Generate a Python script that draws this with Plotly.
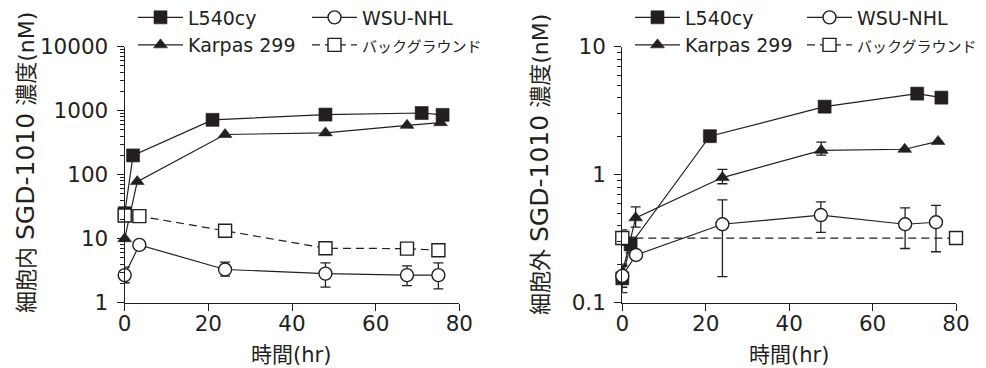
import plotly.graph_objects as go

# ---------------- data ----------------
series_names = ["L540cy", "WSU-NHL", "Karpas 299", "バックグラウンド"]

# left panel: intracellular concentration (nM)
t_left_L540 = [0, 2, 21, 48, 71, 76]
left_L540 = [25, 200, 720, 870, 920, 860]

t_left_K299 = [0, 3, 24, 48, 67.5, 75.5]
left_K299 = [10, 78, 425, 450, 590, 650]

t_left_WSU = [0, 3.5, 24, 48, 67.5, 75]
left_WSU = [2.7, 8.0, 3.3, 2.85, 2.7, 2.7]
left_WSU_err_plus = [0.9, 0, 1.0, 1.35, 1.05, 1.5]
left_WSU_err_minus = [0.65, 0, 0.7, 1.1, 0.85, 1.05]

t_left_bkg = [0, 3.5, 24, 48, 67.5, 75]
left_bkg = [23, 22.5, 13.3, 7.1, 7.0, 6.6]

# right panel: extracellular concentration (nM)
t_right_L540 = [0, 2, 21, 48.5, 70.7, 76.5]
right_L540 = [0.155, 0.285, 2.0, 3.4, 4.3, 4.0]
right_L540_err_plus = [0.04, 0.04, 0, 0, 0, 0]
right_L540_err_minus = [0.035, 0.04, 0, 0, 0, 0]

t_right_K299 = [0, 3.2, 24, 47.7, 67.7, 75.7]
right_K299 = [0.17, 0.46, 0.95, 1.55, 1.58, 1.82]
right_K299_err_plus = [0.03, 0.1, 0.15, 0.25, 0, 0]
right_K299_err_minus = [0.03, 0.07, 0.1, 0.13, 0, 0]

t_right_WSU = [0, 3.3, 24, 47.6, 67.8, 75.2]
right_WSU = [0.162, 0.236, 0.41, 0.484, 0.41, 0.425]
right_WSU_err_plus = [0.03, 0, 0.225, 0.13, 0.14, 0.15]
right_WSU_err_minus = [0.03, 0, 0.25, 0.13, 0.145, 0.175]

t_right_bkg = [0, 80]
right_bkg = [0.32, 0.32]
right_bkg_err_plus = [0.05, 0]
right_bkg_err_minus = [0.04, 0]

x_ticks = [0, 20, 40, 60, 80]

# ---------------- styling ----------------
INK = "#231f20"
LATIN = "DejaVu Sans, Noto Sans CJK JP, sans-serif"
W, H = 986, 368

def px_x(p):
    return p / W

def px_y(p):
    return 1 - p / H

styles = {
    "L540cy": dict(symbol="square", color=INK, open=False, dash="solid", size=13),
    "WSU-NHL": dict(symbol="circle", color="white", open=True, dash="solid", size=13),
    "Karpas 299": dict(symbol="triangle-up", color=INK, open=False, dash="solid", size=12),
    "バックグラウンド": dict(symbol="square", color="white", open=True, dash="8px,5px", size=13),
}

def make_trace(name, x, y, xa, ya, legend, ep=None, em=None):
    s = styles[name]
    label = name
    if name == "バックグラウンド":
        label = '<span style="font-family:Noto Sans CJK JP;font-size:15px">%s</span>' % name
    tr = go.Scatter(
        x=x, y=y, name=label, mode="lines+markers",
        xaxis=xa, yaxis=ya, legend=legend, showlegend=True,
        cliponaxis=False,
        line=dict(color=INK, width=1.2, dash=s["dash"]),
        marker=dict(symbol=s["symbol"], size=s["size"], color=s["color"],
                    line=dict(color=INK, width=1.4 if s["open"] else 0.6)),
    )
    if ep is not None:
        tr.error_y = dict(type="data", symmetric=False, array=ep, arrayminus=em,
                          color=INK, thickness=1.3, width=5)
    return tr

fig = go.Figure()

# left panel
fig.add_trace(make_trace("L540cy", t_left_L540, left_L540, "x", "y", "legend"))
fig.add_trace(make_trace("Karpas 299", t_left_K299, left_K299, "x", "y", "legend3"))
fig.add_trace(make_trace("WSU-NHL", t_left_WSU, left_WSU, "x", "y", "legend2",
                         left_WSU_err_plus, left_WSU_err_minus))
fig.add_trace(make_trace("バックグラウンド", t_left_bkg, left_bkg, "x", "y", "legend4"))

# right panel
fig.add_trace(make_trace("L540cy", t_right_L540, right_L540, "x2", "y2", "legend5",
                         right_L540_err_plus, right_L540_err_minus))
fig.add_trace(make_trace("Karpas 299", t_right_K299, right_K299, "x2", "y2", "legend7",
                         right_K299_err_plus, right_K299_err_minus))
fig.add_trace(make_trace("バックグラウンド", t_right_bkg, right_bkg, "x2", "y2", "legend8",
                         right_bkg_err_plus, right_bkg_err_minus))
fig.add_trace(make_trace("WSU-NHL", t_right_WSU, right_WSU, "x2", "y2", "legend6",
                         right_WSU_err_plus, right_WSU_err_minus))

tickfont = dict(family=LATIN, size=21.5, color=INK)

def xaxis_cfg(domain, anchor):
    return dict(domain=domain, anchor=anchor, range=[0, 80], tickmode="array",
                tickvals=x_ticks, ticktext=[str(v) for v in x_ticks],
                ticks="outside", ticklen=7, tickwidth=1.2, tickcolor=INK,
                showline=True, linecolor=INK, linewidth=1.2, showgrid=False,
                zeroline=False, tickfont=tickfont, ticklabelstandoff=-6)

def yaxis_cfg(domain, anchor, rng):
    return dict(domain=domain, anchor=anchor, type="log", range=rng,
                dtick=1, tickformat="~g",
                ticks="outside", ticklen=7, tickwidth=1.2, tickcolor=INK,
                minor=dict(dtick="D1", ticks="outside", ticklen=4, tickwidth=1,
                           tickcolor=INK, showgrid=False),
                showline=True, linecolor=INK, linewidth=1.2, showgrid=False,
                zeroline=False, tickfont=tickfont, ticklabelstandoff=4)

ydom = [px_y(302.7), px_y(46.7)]
fig.update_layout(
    width=W, height=H,
    margin=dict(l=0, r=0, t=0, b=0, autoexpand=False),
    paper_bgcolor="white", plot_bgcolor="white",
    xaxis=xaxis_cfg([px_x(124.7), px_x(459.3)], "y"),
    yaxis=yaxis_cfg(ydom, "x", [0, 4]),
    xaxis2=xaxis_cfg([px_x(622.3), px_x(956)], "y2"),
    yaxis2=yaxis_cfg(ydom, "x2", [-1, 1]),
)

legend_font = dict(family=LATIN, size=19, color=INK)
def legend_cfg(xp, ytop):
    return dict(x=px_x(xp), y=px_y(ytop), xanchor="left", yanchor="top",
                orientation="v", font=legend_font, itemwidth=45,
                bgcolor="rgba(0,0,0,0)", borderwidth=0, tracegroupgap=0,
                traceorder="normal", itemclick=False, itemdoubleclick=False)

ROW1, ROW2 = -1.5, 26
fig.update_layout(
    legend=legend_cfg(133, ROW1),
    legend2=legend_cfg(307, ROW1),
    legend3=legend_cfg(133, ROW2),
    legend4=legend_cfg(307, ROW2),
    legend5=legend_cfg(630, ROW1),
    legend6=legend_cfg(802, ROW1),
    legend7=legend_cfg(630, ROW2),
    legend8=legend_cfg(802, ROW2),
)

# axis titles
def ytitle(inner):
    return ('細胞%s <span style="font-size:25px">SGD-1010</span> 濃度(nM)') % inner

title_font = dict(family="DejaVu Sans, Noto Sans CJK JP, sans-serif", size=22, color=INK)
fig.add_annotation(text=ytitle("内"), x=px_x(25), y=px_y(163), xref="paper", yref="paper",
                   textangle=-90, showarrow=False, font=title_font,
                   xanchor="center", yanchor="middle")
fig.add_annotation(text=ytitle("外"), x=px_x(539), y=px_y(165), xref="paper", yref="paper",
                   textangle=-90, showarrow=False, font=title_font,
                   xanchor="center", yanchor="middle")
for cx in (291, 789):
    fig.add_annotation(text="時間(hr)",
                       x=px_x(cx), y=px_y(355), xref="paper", yref="paper",
                       showarrow=False, font=dict(family=LATIN, size=21, color=INK),
                       xanchor="center", yanchor="middle")

fig.write_html("out.html")
